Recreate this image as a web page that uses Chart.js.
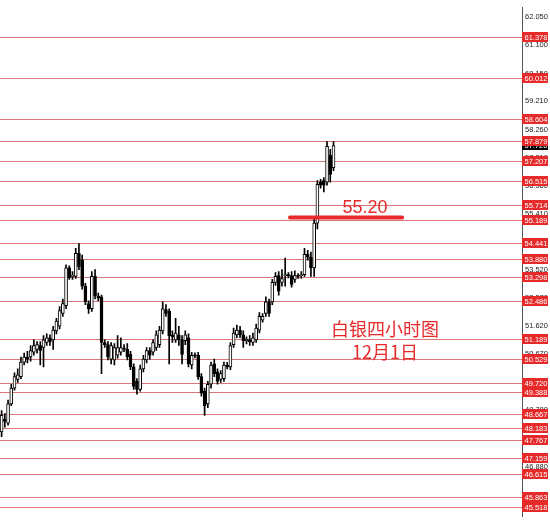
<!DOCTYPE html>
<html>
<head>
<meta charset="utf-8">
<script src="https://cdn.jsdelivr.net/npm/chart.js@4.4.1/dist/chart.umd.min.js"></script>
<style>
  html, body { margin: 0; padding: 0; background: #fff; }
  #wrap { width: 550px; height: 524px; }
</style>
</head>
<body>
<div id="wrap"><canvas id="chart"></canvas></div>
<script>
// 白银 4H candles
const opens = [
  48.05, 48.48, 48.35, 49.00, 49.53, 49.82, 49.92, 50.41, 50.58, 50.58,
  50.74, 50.84, 50.97, 50.90, 51.07, 51.23, 51.16, 51.46, 51.62, 52.05,
  52.31, 53.59, 53.30, 53.30, 54.08, 53.85, 52.97, 52.38, 52.21, 53.30,
  52.64, 52.61, 51.07, 51.00, 50.51, 50.48, 50.64, 50.74, 50.88, 50.84,
  50.67, 50.25, 49.76, 49.49, 50.18, 50.48, 50.80, 50.74, 50.90, 51.00,
  51.46, 52.18, 52.12, 51.33, 51.16, 51.33, 51.16, 51.13, 51.23, 50.31,
  50.64, 50.64, 49.92, 49.43, 49.00, 49.66, 50.35, 50.08, 49.82, 49.85,
  50.31, 50.25, 51.00, 51.33, 51.49, 51.33, 51.13, 51.16, 51.07, 51.16,
  51.49, 51.82, 52.05, 52.44, 52.44, 53.10, 53.33, 53.10, 53.33, 53.36,
  53.33, 53.20, 53.33, 53.33, 53.36, 54.05, 53.95, 53.59, 55.10, 56.48,
  56.54, 56.48, 57.39, 56.97
];
const highs = [
  48.77, 48.67, 49.13, 49.66, 50.05, 50.18, 50.58, 50.71, 50.77, 50.97,
  51.16, 51.10, 51.10, 51.30, 51.36, 51.33, 51.62, 51.89, 52.28, 52.54,
  53.69, 53.66, 53.46, 54.25, 54.41, 54.02, 53.07, 52.48, 53.46, 53.53,
  52.74, 52.67, 51.16, 51.10, 51.07, 51.03, 51.30, 51.23, 51.00, 51.03,
  50.77, 50.35, 49.85, 50.31, 50.64, 50.90, 50.90, 51.16, 51.46, 51.62,
  52.44, 52.35, 52.21, 51.46, 51.89, 51.62, 51.30, 51.46, 51.36, 50.74,
  50.72, 50.74, 50.02, 49.53, 49.76, 50.41, 50.51, 50.18, 50.12, 50.41,
  50.40, 51.07, 51.56, 51.66, 51.62, 51.46, 51.26, 51.30, 51.39, 51.69,
  52.08, 52.05, 52.61, 52.54, 53.20, 53.43, 53.46, 53.53, 53.92, 53.43,
  53.46, 53.49, 53.40, 53.46, 54.25, 54.18, 54.12, 55.23, 56.54, 56.58,
  56.64, 57.85, 57.59, 57.85
];
const lows = [
  47.89, 48.21, 48.28, 48.94, 49.46, 49.72, 49.85, 50.31, 50.38, 50.44,
  50.64, 50.71, 50.31, 50.25, 50.97, 50.97, 50.84, 51.36, 51.53, 51.95,
  52.21, 53.20, 53.20, 53.23, 53.53, 52.87, 52.35, 52.05, 52.12, 52.54,
  52.48, 50.02, 50.90, 50.48, 50.35, 50.31, 50.54, 50.64, 50.76, 50.48,
  50.15, 49.49, 49.33, 49.43, 50.08, 50.38, 50.51, 50.64, 50.80, 50.90,
  51.36, 51.95, 50.35, 51.07, 51.07, 50.97, 50.35, 51.00, 50.25, 50.18,
  50.55, 49.82, 49.26, 48.61, 48.87, 49.53, 49.92, 49.66, 49.72, 49.76,
  50.18, 50.15, 50.90, 51.23, 51.23, 50.90, 51.02, 50.97, 50.97, 51.07,
  51.39, 51.76, 51.95, 51.95, 52.35, 53.00, 52.67, 52.97, 52.97, 53.25,
  52.94, 53.10, 53.23, 53.23, 53.30, 53.85, 53.30, 53.30, 54.90, 56.28,
  56.15, 56.38, 56.48, 56.87
];
const closes = [
  48.61, 48.41, 49.00, 49.53, 49.92, 49.98, 50.41, 50.58, 50.51, 50.80,
  50.97, 51.00, 50.80, 51.16, 51.23, 51.10, 51.49, 51.79, 52.15, 52.38,
  53.59, 53.26, 53.33, 54.08, 53.62, 52.97, 52.44, 52.21, 53.30, 52.64,
  52.57, 51.07, 51.00, 50.58, 50.97, 50.90, 50.90, 50.90, 50.84, 50.58,
  50.25, 49.59, 49.49, 50.18, 50.51, 50.80, 50.64, 51.07, 51.33, 51.49,
  52.21, 52.05, 51.30, 51.26, 51.39, 51.16, 50.67, 51.33, 50.35, 50.64,
  50.62, 49.92, 49.36, 48.94, 49.66, 50.31, 50.02, 49.76, 50.02, 50.31,
  50.25, 50.97, 51.39, 51.49, 51.33, 51.13, 51.18, 51.10, 51.23, 51.56,
  51.95, 51.95, 52.44, 52.05, 53.10, 53.30, 52.80, 53.23, 53.36, 53.33,
  53.03, 53.33, 53.30, 53.36, 54.05, 53.95, 53.59, 55.10, 56.41, 56.38,
  56.38, 57.69, 56.74, 57.72
];

// price scale labels on the right
const tickValues = [
  62.050, 61.100, 60.150, 59.210, 58.260, 57.310, 56.360, 55.410, 54.470,
  53.520, 52.570, 51.620, 50.670, 49.720, 48.780, 47.830, 46.880, 45.930
];
// red horizontal levels
const levels = [
  61.378, 60.012, 58.604, 57.879, 57.207, 56.515, 55.714, 55.189, 54.441,
  53.880, 53.298, 52.486, 51.189, 50.529, 49.720, 49.388, 48.667, 48.183,
  47.767, 47.159, 46.615, 45.863, 45.518
];
const keyLevel = 55.29;
const keyLabel = "55.20";
const titleLines = ["白银四小时图", "12月1日"];

const slotCount = 162; // visible bar slots incl. empty space on the right
const slots = Array.from({ length: slotCount }, (_, i) => i);

const wicks = lows.map((l, i) => [l, highs[i]]);
const bodies = opens.map((o, i) => [o, closes[i]]);
const isUp = (i) => closes[i] >= opens[i];

const RED = "#e62a2a";

const levelsPlugin = {
    id: "levels",
    beforeDatasetsDraw(chart) {
        const { ctx, chartArea } = chart;
        const y = chart.scales.y;
        ctx.save();
        ctx.strokeStyle = "#d87878";
        ctx.lineWidth = 1;
        levels.forEach((v) => {
            const py = Math.round(y.getPixelForValue(v)) + 0.5;
            ctx.beginPath();
            ctx.moveTo(chartArea.left, py);
            ctx.lineTo(chartArea.right, py);
            ctx.stroke();
        });
        ctx.restore();
    },
    afterDraw(chart) {
        const { ctx, chartArea } = chart;
        const x = chart.scales.x;
        const y = chart.scales.y;
        ctx.save();

        // key level line + label
        const ky = y.getPixelForValue(keyLevel);
        ctx.strokeStyle = RED;
        ctx.lineWidth = 4;
        ctx.lineCap = "round";
        ctx.beginPath();
        ctx.moveTo(x.getPixelForValue(89.5), ky);
        ctx.lineTo(x.getPixelForValue(124.3), ky);
        ctx.stroke();

        ctx.fillStyle = RED;
        ctx.textAlign = "center";
        ctx.textBaseline = "middle";
        ctx.font = "18px 'Liberation Sans', Arial, sans-serif";
        ctx.fillText(keyLabel, x.getPixelForValue(112.8), y.getPixelForValue(55.62));

        ctx.font = "18px 'Noto Sans CJK SC', sans-serif";
        ctx.fillText(titleLines[0], x.getPixelForValue(119), y.getPixelForValue(51.52));
        ctx.fillText(titleLines[1], x.getPixelForValue(119), y.getPixelForValue(50.74));

        // price boxes on the axis
        const boxX = chartArea.right;
        const boxW = 26;
        const boxH = 10;
        ctx.font = "7.5px 'Liberation Sans', Arial, sans-serif";
        ctx.textAlign = "left";

        const last = closes[closes.length - 1];
        const ly = Math.round(y.getPixelForValue(last));
        ctx.fillStyle = "#000";
        ctx.fillRect(boxX, ly - boxH / 2, boxW, boxH);
        ctx.fillStyle = "#fff";
        ctx.fillText(last.toFixed(3), boxX + 2.5, ly + 0.5);

        levels.forEach((v) => {
            const py = Math.round(y.getPixelForValue(v));
            ctx.fillStyle = RED;
            ctx.fillRect(boxX, py - boxH / 2, boxW, boxH);
            ctx.fillStyle = "#fff";
            ctx.fillText(v.toFixed(3), boxX + 2.5, py + 0.5);
        });
        ctx.restore();
    },
};

new Chart(document.getElementById("chart"), {
    type: "bar",
    data: {
        labels: slots,
        datasets: [
            {
                label: "wick",
                data: wicks,
                backgroundColor: "#000",
                barThickness: 1,
                grouped: false,
                order: 2,
            },
            {
                label: "body",
                data: bodies,
                backgroundColor: (c) => (isUp(c.dataIndex) ? "#fff" : "#000"),
                borderColor: "#000",
                borderWidth: 1,
                borderSkipped: false,
                barThickness: 3,
                minBarLength: 1,
                grouped: false,
                order: 1,
            },
        ],
    },
    options: {
        responsive: true,
        maintainAspectRatio: false,
        animation: false,
        layout: { padding: 0 },
        plugins: {
            legend: { display: false },
            tooltip: { enabled: false },
        },
        scales: {
            x: {
                display: false,
                offset: true,
            },
            y: {
                position: "right",
                min: 45.197,
                max: 62.378,
                grid: { display: false, drawTicks: false, tickLength: 0 },
                border: { display: true, color: "#555", width: 1 },
                afterBuildTicks: (axis) => {
                    axis.ticks = tickValues.map((v) => ({ value: v }));
                },
                afterFit: (axis) => {
                    axis.width = 28;
                },
                ticks: {
                    autoSkip: false,
                    padding: 3,
                    color: "#222",
                    font: { family: "'Liberation Sans', Arial, sans-serif", size: 7.5 },
                    callback: (v) => Number(v).toFixed(3),
                },
            },
        },
    },
    plugins: [levelsPlugin],
});
</script>
</body>
</html>
